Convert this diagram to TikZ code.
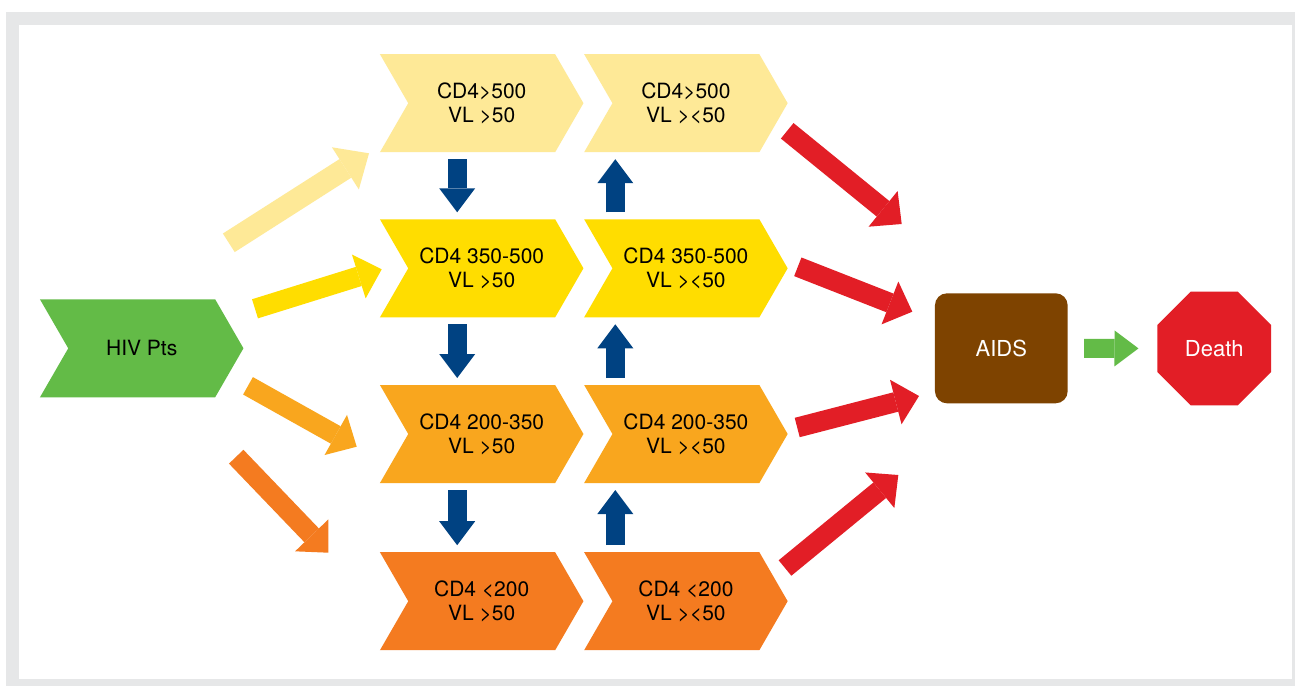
\documentclass[tikz,border=0pt]{standalone}
\usepackage{fontspec}
\setmainfont{TeX Gyre Heros}
\usetikzlibrary{shapes.symbols,shapes.geometric,arrows.meta}

\definecolor{marco}{HTML}{E6E7E8}
\definecolor{verde}{HTML}{63BB47}
\definecolor{palido}{HTML}{FEE997}
\definecolor{amarillo}{HTML}{FFDD00}
\definecolor{naranja}{HTML}{F9A61E}
\definecolor{naranjaosc}{HTML}{F47B20}
\definecolor{rojo}{HTML}{E21E26}
\definecolor{cafe}{HTML}{7E4300}
\definecolor{azul}{HTML}{004282}

\begin{document}
\begin{tikzpicture}[x=1pt,y=-1pt,
    etapa/.style={signal, signal from=west, signal to=east, signal pointer angle=120,
      minimum width=203.5pt, minimum height=98pt, inner sep=0pt, outer sep=0pt,
      align=center, font=\fontsize{21}{24}\selectfont},
    flecha/.style={line width=20pt, -{Triangle[length=24pt,width=46pt,line width=0pt]}},
    bloque/.style={line width=19pt, -{Triangle[length=24pt,width=36pt,line width=0pt]},
      azul, shorten <=7pt, shorten >=7pt}]
    \useasboundingbox (0,0) rectangle (1295,686);

    % Marco gris
    \fill[marco] (6,12) rectangle (1295,686);
    \fill[white] (19,25) rectangle (1292,679);

    % Pacientes
    \node[etapa, fill=verde] (hiv) at (141.7,348.3) {HIV Pts};

    % Etapas con carga viral >50
    \node[etapa, fill=palido] (vir1) at (481.7,103.2) {CD4>500\\VL >50};
    \node[etapa, fill=amarillo] (vir2) at (481.7,268.3) {CD4 350-500\\VL >50};
    \node[etapa, fill=naranja] (vir3) at (481.7,434) {CD4 200-350\\VL >50};
    \node[etapa, fill=naranjaosc] (vir4) at (481.7,601.2) {CD4 <200\\VL >50};

    % Etapas con carga viral <50
    \node[etapa, fill=palido] (sup1) at (685.9,103.2) {CD4>500\\VL ><50};
    \node[etapa, fill=amarillo] (sup2) at (685.9,268.3) {CD4 350-500\\VL ><50};
    \node[etapa, fill=naranja] (sup3) at (685.9,434) {CD4 200-350\\VL ><50};
    \node[etapa, fill=naranjaosc] (sup4) at (685.9,601.2) {CD4 <200\\VL ><50};

    % SIDA y muerte
    \node[fill=cafe, rounded corners=12pt, minimum width=132.7pt, minimum height=110pt,
      text=white, font=\fontsize{22}{24}\selectfont] (aids) at (1001.3,348.3) {AIDS};
    \node[regular polygon, regular polygon sides=8, minimum size=123pt, inner sep=0pt,
      fill=rojo, text=white, font=\fontsize{22}{24}\selectfont] (death) at (1214.2,348.5) {Death};

    % Extremos libres de las flechas
    \coordinate (hivA) at (228.8,242.8);  \coordinate (inA) at (369,153.3);
    \coordinate (hivB) at (255,308.8);    \coordinate (inB) at (381.7,269.3);
    \coordinate (hivC) at (248,385.8);    \coordinate (inC) at (356.7,446.7);
    \coordinate (hivD) at (236.2,456.7);  \coordinate (inD) at (328.3,552.7);
    \coordinate (outA) at (787.2,130.8);  \coordinate (aidsA) at (901.7,224);
    \coordinate (outB) at (797.8,266.8);  \coordinate (aidsB) at (912.3,311.7);
    \coordinate (outC) at (797.2,427.5);  \coordinate (aidsC) at (919,396);
    \coordinate (outD) at (785,568);      \coordinate (aidsD) at (898.3,475);

    % Flechas desde los pacientes
    \draw[flecha, palido, line width=22pt,
      -{Triangle[length=28pt,width=50pt,line width=0pt]}] (hivA) -- (inA);
    \draw[flecha, amarillo] (hivB) -- (inB);
    \draw[flecha, naranja] (hivC) -- (inC);
    \draw[flecha, naranjaosc] (hivD) -- (inD);

    % Flechas hacia SIDA
    \draw[flecha, rojo] (outA) -- (aidsA);
    \draw[flecha, rojo] (outB) -- (aidsB);
    \draw[flecha, rojo] (outC) -- (aidsC);
    \draw[flecha, rojo] (outD) -- (aidsD);

    % Progresion (bajando) y recuperacion (subiendo)
    \draw[bloque] ([xshift=-24.5pt]vir1.south) -- ([xshift=-24.5pt]vir2.north);
    \draw[bloque] ([xshift=-24.5pt]vir2.south) -- ([xshift=-24.5pt]vir3.north);
    \draw[bloque] ([xshift=-24.5pt]vir3.south) -- ([xshift=-24.5pt]vir4.north);
    \draw[bloque] ([xshift=-70.6pt]sup2.north) -- ([xshift=-70.6pt]sup1.south);
    \draw[bloque] ([xshift=-70.6pt]sup3.north) -- ([xshift=-70.6pt]sup2.south);
    \draw[bloque] ([xshift=-70.6pt]sup4.north) -- ([xshift=-70.6pt]sup3.south);

    % SIDA a muerte
    \draw[bloque, verde, shorten <=16.3pt, shorten >=18.7pt] (aids) -- (death);
\end{tikzpicture}
\end{document}
